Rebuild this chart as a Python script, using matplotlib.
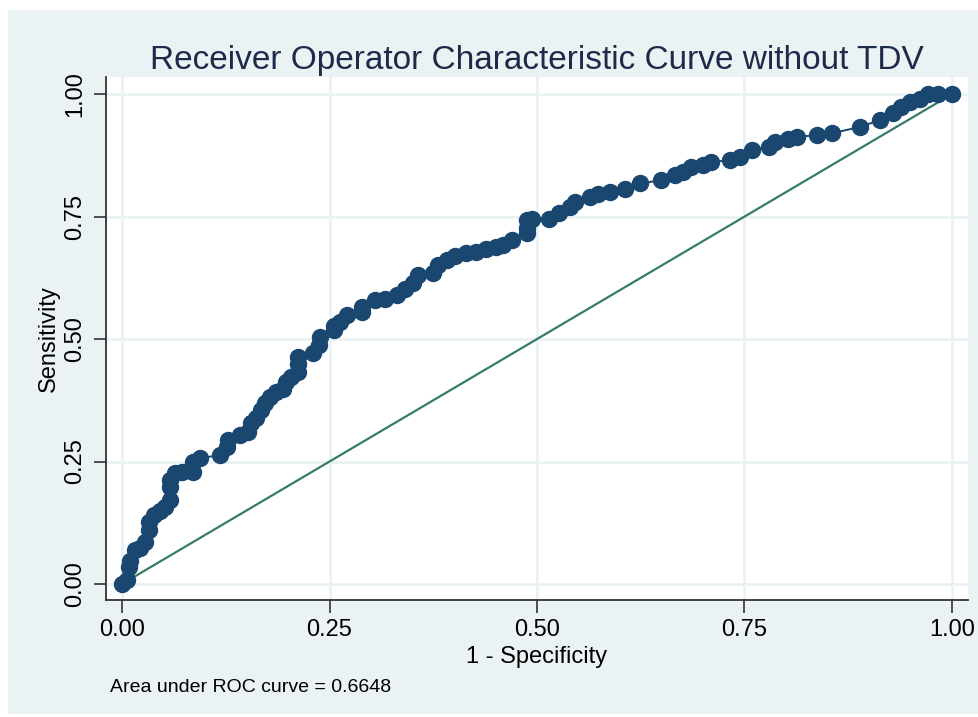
import matplotlib.pyplot as plt
from matplotlib.patches import Rectangle

# ROC coordinates (1 - specificity, sensitivity)
fpr = [0.000, 0.006, 0.008, 0.010, 0.016, 0.022, 0.028, 0.032, 0.032, 0.038,
       0.046, 0.052, 0.058, 0.058, 0.058, 0.064, 0.072, 0.086, 0.086, 0.094,
       0.118, 0.126, 0.128, 0.142, 0.152, 0.156, 0.162, 0.168, 0.172, 0.178,
       0.186, 0.194, 0.198, 0.204, 0.212, 0.212, 0.212, 0.230, 0.237, 0.239,
       0.255, 0.255, 0.263, 0.271, 0.289, 0.289, 0.305, 0.317, 0.331, 0.341,
       0.351, 0.357, 0.375, 0.381, 0.391, 0.401, 0.415, 0.427, 0.439, 0.451,
       0.459, 0.470, 0.488, 0.488, 0.488, 0.494, 0.514, 0.526, 0.540, 0.546,
       0.564, 0.574, 0.588, 0.606, 0.624, 0.650, 0.666, 0.676, 0.686, 0.700,
       0.710, 0.733, 0.745, 0.759, 0.779, 0.787, 0.803, 0.813, 0.837, 0.855,
       0.889, 0.913, 0.929, 0.939, 0.949, 0.961, 0.971, 0.983, 1.000]
tpr = [0.000, 0.008, 0.035, 0.046, 0.069, 0.073, 0.086, 0.110, 0.127, 0.141,
       0.148, 0.158, 0.171, 0.199, 0.212, 0.226, 0.229, 0.229, 0.250, 0.257,
       0.263, 0.280, 0.294, 0.304, 0.311, 0.328, 0.338, 0.355, 0.369, 0.382,
       0.392, 0.399, 0.413, 0.423, 0.433, 0.450, 0.464, 0.471, 0.488, 0.505,
       0.518, 0.527, 0.535, 0.549, 0.556, 0.566, 0.580, 0.581, 0.590, 0.603,
       0.614, 0.631, 0.634, 0.651, 0.661, 0.669, 0.675, 0.678, 0.683, 0.688,
       0.692, 0.703, 0.716, 0.726, 0.743, 0.746, 0.746, 0.757, 0.770, 0.780,
       0.790, 0.797, 0.801, 0.807, 0.818, 0.824, 0.835, 0.842, 0.852, 0.855,
       0.862, 0.865, 0.872, 0.886, 0.893, 0.903, 0.909, 0.913, 0.916, 0.920,
       0.933, 0.947, 0.961, 0.974, 0.984, 0.991, 1.000, 1.000, 1.000]
ticks = [0.0, 0.25, 0.5, 0.75, 1.0]
tick_labels = ["0.00", "0.25", "0.50", "0.75", "1.00"]
auc = 0.6648

plt.rcParams['font.family'] = ['Liberation Sans', 'DejaVu Sans']

navy = '#1a476f'
bg = '#eaf2f3'

fig = plt.figure(figsize=(9.79, 7.17), dpi=100)
# light panel behind everything, thin white margin outside
fig.patches.append(Rectangle((8 / 979, 3 / 717), 971 / 979, 704 / 717,
                             transform=fig.transFigure, facecolor=bg,
                             edgecolor='none', zorder=-10))

ax = fig.add_axes([106 / 979, 117 / 717, 862 / 979, 523 / 717])
ax.set_facecolor('white')

# reference diagonal
ax.plot([0, 1], [0, 1], color='#367c69', linewidth=1.6, zorder=2)
# ROC curve
ax.plot(fpr, tpr, color=navy, linewidth=1.4, marker='o', markersize=11.5,
        markerfacecolor=navy, markeredgecolor=navy, zorder=3)

ax.set_xlim(-0.0193, 1.0193)
ax.set_ylim(-0.0327, 1.035)
ax.set_xticks(ticks)
ax.set_xticklabels(tick_labels)
ax.set_yticks(ticks)
ax.set_yticklabels(tick_labels, rotation=90, va='center')
ax.tick_params(axis='both', length=9, width=1.2, color='#333333',
               labelsize=17, pad=5)
ax.grid(True, color=bg, linewidth=2)
ax.set_axisbelow(True)

for side in ['top', 'right']:
    ax.spines[side].set_visible(False)
for side in ['left', 'bottom']:
    ax.spines[side].set_color('#333333')
    ax.spines[side].set_linewidth(1.3)

ax.set_xlabel("1 - Specificity", fontsize=17)
ax.xaxis.set_label_coords(0.5, -0.087)
ax.set_ylabel("Sensitivity", fontsize=17)
ax.yaxis.set_label_coords(-0.053, 0.5)

ax.set_title("Receiver Operator Characteristic Curve without TDV",
             fontsize=24, color='#1e2a4a', pad=6)

fig.text(110 / 979, 1 - 688 / 717, f"Area under ROC curve = {auc:.4f}",
         fontsize=14, va='center', ha='left')

fig.savefig('out.png', dpi=100)
